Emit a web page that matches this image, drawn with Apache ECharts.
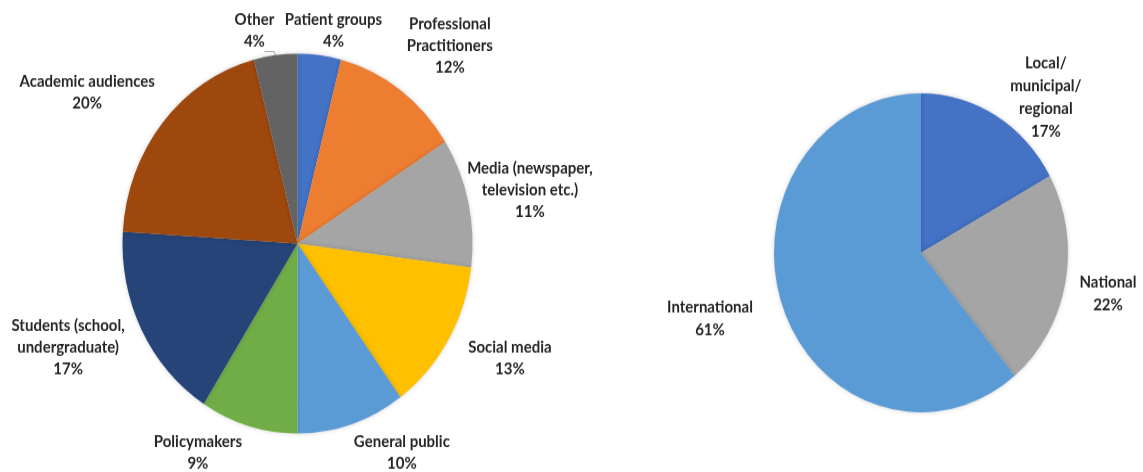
<!DOCTYPE html>
<html>
<head>
<meta charset="utf-8">
<script src="https://cdn.jsdelivr.net/npm/echarts@6/dist/echarts.min.js"></script>
<style>
  html, body { margin: 0; padding: 0; background: #fff; overflow: hidden; }
  #chart { width: 1143px; height: 480px; transform: scaleY(1.085); transform-origin: 0 0; }
</style>
</head>
<body>
<div id="chart"></div>
<script>
// Audience types (left pie), clockwise from 12 o'clock
const audienceNames = [
  'Patient groups',
  'Professional\nPractitioners',
  'Media (newspaper,\ntelevision etc.)',
  'Social media',
  'General public',
  'Policymakers',
  'Students (school,\nundergraduate)',
  'Academic audiences',
  'Other'
];
const audienceShares = [4, 12, 11, 13, 10, 9, 17, 20, 4];
const audienceColors = ['#4472C4', '#ED7D31', '#A5A5A5', '#FFC000', '#5B9BD5', '#70AD47', '#264478', '#9E480E', '#636363'];

// Geographic reach (right pie), clockwise from 12 o'clock
const reachNames = ['Local/\nmunicipal/\nregional', 'National', 'International'];
const reachShares = [17, 22, 61];
const reachColors = ['#4472C4', '#A5A5A5', '#5B9BD5'];

// Label placement: [angle in degrees clockwise from 12 o'clock, distance in pie radii]
const audienceLabelSpots = [[10.4, 1.14], [39.9, 1.357], [78, 1.358], [116.4, 1.355], [151.6, 1.254],
                            [207.3, 1.241], [247.4, 1.42], [303.6, 1.443], [347.6, 1.147]];
const reachLabelSpots = [[41, 1.295], [101.5, 1.298], [253.9, 1.494]];

const leftPie = { cx: 297.5, cy: 224.5, r: 175 };
const rightPie = { cx: 921, cy: 233, r: 147 };

function midAngles(values) {
  const total = values.reduce((a, b) => a + b, 0);
  const mids = [];
  let acc = 0;
  values.forEach(v => { mids.push((acc + v / 2) / total * 2 * Math.PI); acc += v; });
  return mids;
}

function placeLabels(geom, values, spots, leaderIndex) {
  const mids = midAngles(values);
  return function (params) {
    const i = params.dataIndex;
    const a = spots[i][0] * Math.PI / 180;
    const d = spots[i][1] * geom.r;
    const x = geom.cx + d * Math.sin(a);
    const y = geom.cy - d * Math.cos(a);
    const out = { x: x, y: y, align: 'center', verticalAlign: 'middle' };
    if (i === leaderIndex) {
      const m = mids[i];
      const ex = geom.cx + geom.r * Math.sin(m);
      const ey = geom.cy - geom.r * Math.cos(m);
      const ty = y + params.labelRect.height / 2 - 1;
      out.labelLinePoints = [[ex, ey], [ex - 1.5, ty], [x + 10, ty]];
    }
    return out;
  };
}

function buildData(names, values, colors, leaderIndex) {
  return names.map((n, i) => ({
    name: n,
    value: values[i],
    itemStyle: { color: colors[i] },
    labelLine: { show: leaderIndex === i }
  }));
}

function labelStyle(lineHeight) {
  return {
    show: true,
    position: 'outside',
    formatter: '{b}\n{c}%',
    fontFamily: 'Lato',
    fontWeight: 'bold',
    fontSize: 15,
    lineHeight: lineHeight,
    color: '#262626',
    bleedMargin: 200
  };
}

const itemStyle = {
  borderWidth: 0,
  shadowBlur: 4,
  shadowColor: 'rgba(0,0,0,0.18)'
};

const chart = echarts.init(document.getElementById('chart'), null, { renderer: 'canvas' });
chart.setOption({
  animation: false,
  backgroundColor: '#ffffff',
  series: [
    {
      type: 'pie',
      center: [leftPie.cx, leftPie.cy],
      radius: leftPie.r,
      startAngle: 90,
      clockwise: true,
      avoidLabelOverlap: false,
      label: labelStyle(20),
      labelLine: { show: false, length: 4, length2: 4, smooth: false, lineStyle: { color: '#A5A5A5', width: 1 } },
      labelLayout: placeLabels(leftPie, audienceShares, audienceLabelSpots, 8),
      itemStyle: itemStyle,
      emphasis: { disabled: true },
      data: buildData(audienceNames, audienceShares, audienceColors, 8)
    },
    {
      type: 'pie',
      center: [rightPie.cx, rightPie.cy],
      radius: rightPie.r,
      startAngle: 90,
      clockwise: true,
      avoidLabelOverlap: false,
      label: labelStyle(21),
      labelLine: { show: false },
      labelLayout: placeLabels(rightPie, reachShares, reachLabelSpots, -1),
      itemStyle: itemStyle,
      emphasis: { disabled: true },
      data: buildData(reachNames, reachShares, reachColors, -1)
    }
  ]
});
</script>
</body>
</html>
